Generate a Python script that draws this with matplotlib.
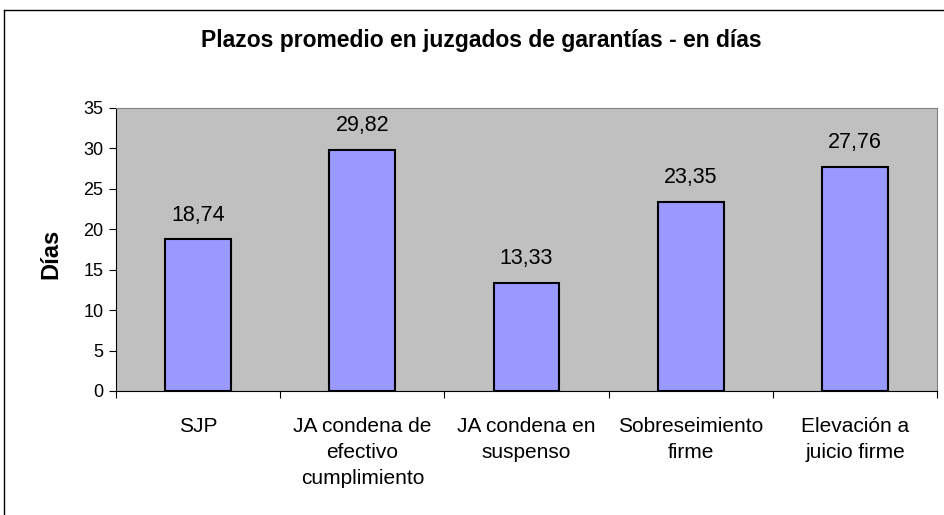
import numpy as np
import matplotlib.pyplot as plt
from matplotlib.lines import Line2D

categorias = ["SJP", "JA condena de\nefectivo\ncumplimiento", "JA condena en\nsuspenso",
              "Sobreseimiento\nfirme", "Elevación a\njuicio firme"]
dias = [18.74, 29.82, 13.33, 23.35, 27.76]
yticks = [0, 5, 10, 15, 20, 25, 30, 35]

plt.rcParams['font.family'] = ['Liberation Sans', 'DejaVu Sans']

fig = plt.figure(figsize=(9.44, 5.15), dpi=100)
ax = fig.add_axes([0.1229, 0.2408, 0.8697, 0.5495])
ax.set_facecolor('#C0C0C0')

x = np.arange(len(dias))
ax.bar(x, dias, width=0.4, color='#9999FF', edgecolor='black', linewidth=1.5, zorder=3)
for xi, v in zip(x, dias):
    ax.annotate(f"{v:.2f}".replace('.', ','), (xi, v), xytext=(0, 10), textcoords='offset points',
                ha='center', va='bottom', fontsize=15.5)

ax.set_xlim(-0.5, len(dias) - 0.5)
ax.set_ylim(0, 35)
ax.set_yticks(yticks)
ax.tick_params(axis='y', labelsize=13, direction='out', length=5, pad=4)

# category ticks between bars, labels centered under bars
ax.set_xticks(np.arange(len(dias) + 1) - 0.5)
ax.set_xticklabels([])
ax.set_xticks(x, minor=True)
ax.set_xticklabels(categorias, minor=True, fontsize=15, linespacing=1.45, va='top')
ax.tick_params(axis='x', which='major', direction='out', length=5)
ax.tick_params(axis='x', which='minor', length=0, pad=19)

for s in ['top', 'right']:
    ax.spines[s].set_color('#808080')
for s in ['left', 'bottom']:
    ax.spines[s].set_color('black')

ax.set_ylabel("Días", fontsize=17, fontweight='bold')
ax.yaxis.set_label_coords(-0.065, 0.484)
fig.text(0.5095, 0.922, "Plazos promedio en juzgados de garantías - en días",
         ha='center', va='center', fontsize=16.5, fontweight='bold')

# outer chart border
fig.add_artist(Line2D([0.0042, 0.0042], [0, 0.9806], color='black', linewidth=1.0))
fig.add_artist(Line2D([0.0042, 1.0], [0.9806, 0.9806], color='black', linewidth=1.0))

fig.savefig("out.png", dpi=100)
